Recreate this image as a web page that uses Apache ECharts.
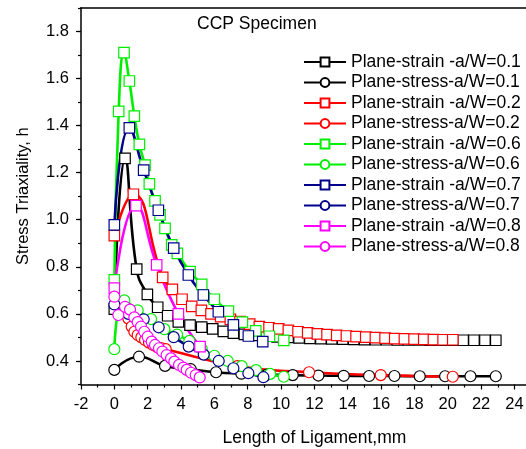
<!DOCTYPE html>
<html>
<head>
<meta charset="utf-8">
<script src="https://cdn.jsdelivr.net/npm/echarts@6/dist/echarts.min.js"></script>
<style>html,body{margin:0;padding:0;background:#fff}#c{width:526px;height:449px}</style>
</head>
<body>
<div id="c"></div>
<script>
// ---- data ----
var seriesNames = ['Plane-strain -a/W=0.1','Plane-stress-a/W=0.1','Plane-strain -a/W=0.2','Plane-stress-a/W=0.2',
  'Plane-strain -a/W=0.6','Plane-stress-a/W=0.6','Plane-strain -a/W=0.7','Plane-stress-a/W=0.7',
  'Plane-strain -a/W=0.8','Plane-stress-a/W=0.8'];

var strain01X = [0, 0.64, 1.34, 1.98, 2.6, 3.2, 3.84, 4.54, 5.24, 5.9, 6.54, 7.14, 7.80, 8.45, 9.11, 9.76, 10.42, 11.08, 11.73, 12.39, 13.04, 13.70, 14.36, 15.01, 15.67, 16.32, 16.98, 17.64, 18.29, 18.95, 19.60, 20.26, 20.92, 21.57, 22.23, 22.88];
var strain01Y = [0.62, 1.26, 0.79, 0.683, 0.628, 0.592, 0.566, 0.552, 0.544, 0.536, 0.526, 0.518, 0.513, 0.509, 0.505, 0.502, 0.500, 0.498, 0.496, 0.495, 0.494, 0.493, 0.492, 0.491, 0.490, 0.490, 0.489, 0.489, 0.489, 0.488, 0.488, 0.488, 0.488, 0.488, 0.488, 0.488];

var stress01X = [0, 1.48, 3.04, 4.58, 6.1, 7.62, 9.16, 10.7, 12.24, 13.76, 15.28, 16.8, 18.32, 19.84, 21.36, 22.88];
var stress01Y = [0.362, 0.418, 0.379, 0.365, 0.352, 0.346, 0.342, 0.340, 0.338, 0.337, 0.336, 0.336, 0.335, 0.335, 0.335, 0.335];

var strain02X = [0, 1.14, 2.9, 3.48, 4.06, 4.64, 5.22, 5.8, 6.38, 6.96, 7.54, 8.12, 8.7, 9.28, 9.86, 10.44, 11.02, 11.6, 12.18, 12.76, 13.34, 13.92, 14.5, 15.08, 15.66, 16.24, 16.82, 17.4, 17.98, 18.56, 19.14, 19.72, 20.3];
var strain02Y = [0.932, 1.108, 0.755, 0.704, 0.662, 0.632, 0.615, 0.600, 0.588, 0.577, 0.567, 0.556, 0.546, 0.541, 0.536, 0.530, 0.524, 0.519, 0.515, 0.512, 0.509, 0.506, 0.503, 0.501, 0.499, 0.497, 0.495, 0.494, 0.493, 0.492, 0.491, 0.490, 0.490];

var stress02X = [0.84, 1.04, 1.2, 1.4, 1.62, 1.84, 2.08, 2.32, 2.56, 2.8, 3.08, 7.38, 11.68, 15.98, 20.3];
var stress02Y = [0.58, 0.546, 0.524, 0.51, 0.50, 0.489, 0.478, 0.468, 0.460, 0.455, 0.450, 0.378, 0.352, 0.340, 0.333];

var strain06X = [0, 0.26, 0.58, 0.9, 1.2, 1.5, 1.84, 2.1, 2.44, 2.74, 3.04, 3.44, 3.78, 4.54, 5.24, 6.0, 6.84, 7.68, 8.48, 9.3, 10.16];
var strain06Y = [0.744, 1.46, 1.709, 1.589, 1.44, 1.32, 1.232, 1.152, 1.08, 1.02, 0.963, 0.893, 0.857, 0.779, 0.725, 0.662, 0.612, 0.565, 0.528, 0.505, 0.487];

var stress06X = [0, 0.6, 1.4, 2.2, 3.0, 3.76, 4.5, 5.24, 6.0, 6.8, 7.64, 8.5, 9.34, 10.16];
var stress06Y = [0.45, 0.657, 0.615, 0.578, 0.535, 0.512, 0.485, 0.452, 0.422, 0.400, 0.378, 0.361, 0.345, 0.333];

var strain07X = [0, 0.9, 1.76, 2.64, 3.56, 4.44, 5.34, 6.24, 7.14, 8.04, 8.9];
var strain07Y = [0.978, 1.39, 1.21, 1.04, 0.879, 0.765, 0.68, 0.609, 0.553, 0.506, 0.482];

var stress07X = [0, 0.84, 1.76, 2.66, 3.56, 4.46, 5.36, 6.26, 7.14, 8.04, 8.94];
var stress07Y = [0.64, 0.60, 0.577, 0.543, 0.501, 0.461, 0.427, 0.400, 0.369, 0.348, 0.331];

var strain08X = [0, 1.3, 2.54, 3.84, 5.14];
var strain08Y = [0.709, 1.06, 0.808, 0.60, 0.461];

var stress08X = [0, 0.24, 0.64, 0.94, 1.2, 1.4, 1.6, 1.8, 2.0, 2.24, 2.44, 2.68, 2.88, 3.14, 3.4, 3.6, 3.88, 4.14, 4.34, 4.6, 4.88, 5.12];
var stress08Y = [0.673, 0.595, 0.63, 0.618, 0.585, 0.565, 0.546, 0.524, 0.503, 0.482, 0.468, 0.454, 0.44, 0.425, 0.411, 0.397, 0.383, 0.372, 0.362, 0.35, 0.34, 0.33];

var yLabelValues = [0.4, 0.6, 0.8, 1.0, 1.2, 1.4, 1.6, 1.8];

// ---- styling ----
var FONT = "'Liberation Sans', Arial, sans-serif";
var BLACK = '#000000', RED = '#ff0000', GREEN = '#00ee00', BLUE = '#00008b', MAGENTA = '#ff00ff';
var GRID_LEFT = 81, GRID_RIGHT = -21.8, W = 526;
var seriesDefs = [
  [strain01X, strain01Y, BLACK, 'rect'],
  [stress01X, stress01Y, BLACK, 'circle'],
  [strain02X, strain02Y, RED, 'rect'],
  [stress02X, stress02Y, RED, 'circle'],
  [strain06X, strain06Y, GREEN, 'rect'],
  [stress06X, stress06Y, GREEN, 'circle'],
  [strain07X, strain07Y, BLUE, 'rect'],
  [stress07X, stress07Y, BLUE, 'circle'],
  [strain08X, strain08Y, MAGENTA, 'rect'],
  [stress08X, stress08Y, MAGENTA, 'circle']
];

function zip(xs, ys) { return xs.map(function (x, i) { return [x, ys[i]]; }); }

var series = seriesDefs.map(function (d, i) {
  return {
    name: seriesNames[i],
    type: 'line',
    data: zip(d[0], d[1]),
    smooth: 0.5,
    symbol: d[3],
    symbolSize: d[3] === 'rect' ? 10.5 : 11,
    showAllSymbol: true,
    lineStyle: { color: d[2], width: 2.6 },
    itemStyle: { color: '#ffffff', borderColor: d[2], borderWidth: 1.2 },
    emphasis: { disabled: true }
  };
});

var chart = echarts.init(document.getElementById('c'), null, { renderer: 'canvas' });
chart.setOption({
  animation: false,
  backgroundColor: '#ffffff',
  title: {
    text: 'CCP Specimen', left: 197, top: 15, padding: 0,
    textStyle: { fontFamily: FONT, fontSize: 17.5, fontWeight: 'normal', color: '#000' }
  },
  legend: {
    data: seriesNames,
    orient: 'vertical', left: 303, top: 53, padding: 0,
    itemWidth: 42, itemHeight: 11, itemGap: 2.5,
    textStyle: { fontFamily: FONT, fontSize: 17.5, color: '#000' }
  },
  grid: { left: GRID_LEFT, top: 7.75, right: GRID_RIGHT, bottom: 64.5, outerBoundsMode: 'none', containLabel: false },
  xAxis: [{
    type: 'value', min: -2, max: 26, interval: 2,
    name: 'Length of Ligament,mm', nameLocation: 'middle', nameGap: 45,
    nameTextStyle: { fontFamily: FONT, fontSize: 17.5, color: '#000' },
    axisLine: { onZero: false, lineStyle: { color: '#000', width: 1.5 } },
    axisTick: { inside: false, length: 5, lineStyle: { color: '#000', width: 1.2 } },
    minorTick: { show: true, splitNumber: 2, length: 3, lineStyle: { color: '#000', width: 1.2 } },
    axisLabel: { fontFamily: FONT, fontSize: 16.5, color: '#000', margin: 11 },
    splitLine: { show: false }
  }, {
    type: 'value', position: 'top', min: -2, max: 26,
    axisLine: { onZero: false, lineStyle: { color: '#000', width: 1.5 } },
    axisTick: { show: false }, axisLabel: { show: false }, splitLine: { show: false }
  }],
  yAxis: [{
    type: 'value', min: 0.3, max: 1.9,
    name: 'Stress Triaxiality, h', nameLocation: 'middle', nameGap: 49,
    nameTextStyle: { fontFamily: FONT, fontSize: 16.5, color: '#000' },
    axisLine: { onZero: false, lineStyle: { color: '#000', width: 1.5 } },
    axisTick: { inside: false, length: 5, customValues: yLabelValues, lineStyle: { color: '#000', width: 1.2 } },
    axisLabel: { fontFamily: FONT, fontSize: 16.5, color: '#000', margin: 12, customValues: yLabelValues,
      formatter: function (v) { return v.toFixed(1); } },
    splitLine: { show: false }
  }, {
    // minor ticks (every 0.1), placed on the left edge via offset
    type: 'value', min: 0.3, max: 1.9, interval: 0.1, position: 'right',
    offset: -(W - GRID_LEFT - GRID_RIGHT),
    axisLine: { show: false, onZero: false },
    axisTick: { show: true, inside: true, length: 3, lineStyle: { color: '#000', width: 1.2 } },
    axisLabel: { show: false }, splitLine: { show: false }
  }],
  series: series
});
</script>
</body>
</html>
